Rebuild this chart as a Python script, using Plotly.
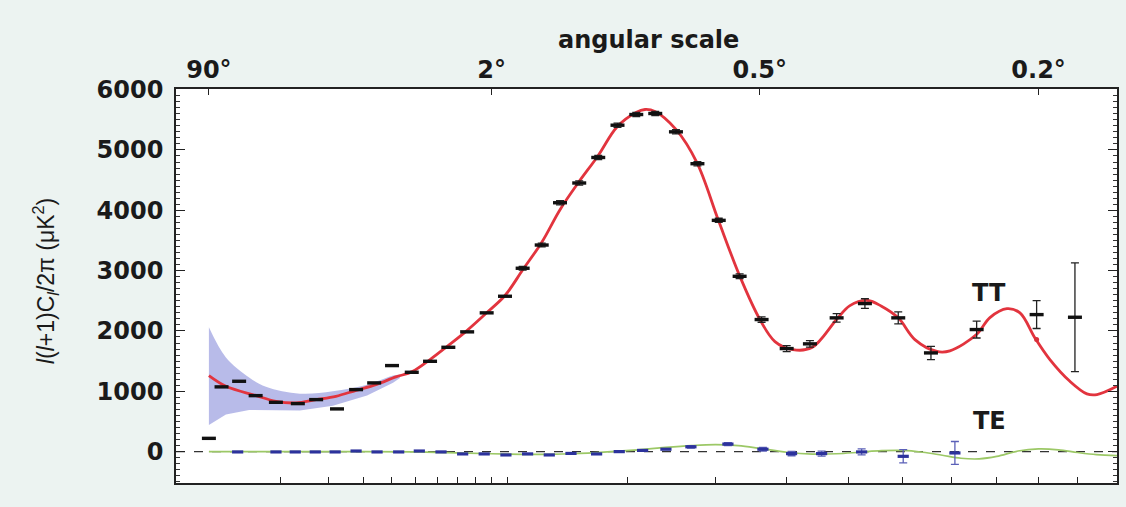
import plotly.graph_objects as go

POW = 0.4  # power-law multipole axis (x = l**0.4)

# TT binned data
tt_l = [2.0, 2.9, 4.5, 6.4, 9.3, 13.2, 17.1, 22.3, 27.8, 33.7, 40.2, 48.2, 56.4, 65.4, 75.5,
        86.9, 98.5, 110.5, 124.4, 138.7, 154.7, 171.6, 189.8, 208.6, 228.7, 251.9, 277.4,
        304.2, 331.9, 362.6, 399.7, 436.0, 480.1, 529.6, 591.7, 656.7, 754.4, 895.2, 992.8]
tt_val = [220, 1073, 1166, 928, 817, 796, 862, 708, 1028, 1139, 1426, 1315, 1497, 1729, 1985,
          2300, 2575, 3039, 3424, 4125, 4452, 4875, 5410, 5587, 5604, 5300, 4772,
          3833, 2906, 2189, 1708, 1786, 2217, 2454, 2217, 1636, 2023, 2271, 2227]
tt_err = [0] * 17 + [30, 30, 35, 35, 35, 35, 35, 35, 35, 35, 35, 40, 45, 50, 55, 70, 80,
                     100, 110, 140, 230, 900]

# TT best-fit model
model_l = [2, 3.26, 6.44, 9.31, 12.84, 17.1, 22.0, 27.8, 34.3, 41.7, 48.4, 56.4, 65.3, 75.4,
           87.1, 98.5, 110.7, 124.6, 138.7, 154.4, 171.3, 189.3, 208.3, 217.7, 228.4, 251.9,
           276.8, 303.4, 332.4, 360.2, 382.1, 409.3, 439.3, 480, 503, 535, 560, 591.7, 624.3,
           669, 696.3, 754, 784.3, 823.7, 854.6, 891, 928.4, 979.6, 1024.5, 1051.6, 1106.7]
model_val = [1260, 1083, 928, 834, 807, 862, 917, 1016, 1111, 1238, 1326, 1525, 1757, 2006,
             2305, 2587, 3018, 3475, 4010, 4470, 4900, 5380, 5620, 5670, 5637, 5340,
             4790, 3847, 2900, 2189, 1824, 1690, 1724, 2189, 2420, 2505, 2410, 2217, 1857,
             1660, 1670, 1940, 2222, 2370, 2300, 1885, 1525, 1165, 957, 945, 1083]

# binned model point visible in red
red_l = [895.2]
red_val = [1857]

# cosmic variance band
band_l = [2.0, 3.26, 5.6, 7.8, 13.6, 21.2, 31.3, 40.6, 43.3]
band_hi = [2060, 1560, 1230, 1075, 960, 1000, 1110, 1260, 1280]
band_lo = [440, 615, 690, 690, 680, 760, 930, 1140, 1220]

# TE data
te_l = [4.35, 9.31, 12.7, 16.9, 21.8, 27.8, 34.7, 42.8, 51.5, 61.7, 73.0, 85.4, 99.1, 114.0,
        130.2, 147.7, 170.1, 191.5, 215.2, 240.5, 269.5, 316.2, 364.5, 407.2, 455.0, 523.7,
        601.3, 706.9]
te_val = [-5, -5, -5, -5, -5, 10, -5, -5, 10, -5, -38, -38, -55, -38, -55, -30, -38, 0, 20,
          40, 80, 125, 40, -33, -33, -5, -78, -22]
te_err = [0] * 20 + [20, 25, 30, 35, 40, 50, 110, 190]

# TE model
te_model_l = [2, 10, 30, 50, 70, 90, 110, 130, 150, 180, 210, 240, 270, 300, 330, 360, 400,
              440, 480, 520, 560, 600, 640, 680, 720, 760, 800, 850, 900, 950, 1000, 1050, 1107]
te_model_val = [0, 0, 0, -5, -20, -35, -45, -45, -35, -5, 30, 70, 100, 115, 100, 55, -10,
                -40, -35, -10, 15, 20, -10, -60, -110, -120, -80, 10, 45, 30, -15, -50, -66]

# axes
bottom_tick_l = [10, 20, 30, 40, 50, 60, 70, 80, 90, 100, 200, 300, 400, 500, 600, 700, 800, 900, 1000]
top_tick_deg = [90, 2, 0.5, 0.2]
top_tick_text = ["90°", "2°", "0.5°", "0.2°"]
y_ticks = [0, 1000, 2000, 3000, 4000, 5000, 6000]
l_range = [0.519, 1107]
y_range = [-520, 6010]


def tx(vals):
    return [v ** POW for v in vals]


BG = "#ecf3f1"
TICKFONT = dict(family="DejaVu Sans", size=24, color="#1a1a1a", weight="bold")
LABELFONT = dict(family="DejaVu Sans", size=24, color="#1a1a1a", weight="bold")

fig = go.Figure()

fig.add_trace(go.Scatter(x=tx(band_l), y=band_lo, mode="lines", line=dict(width=0),
                         showlegend=False, hoverinfo="skip"))
fig.add_trace(go.Scatter(x=tx(band_l), y=band_hi, mode="lines", line=dict(width=0, shape="spline"),
                         fill="tonexty", fillcolor="rgba(140,145,220,0.62)",
                         showlegend=False, hoverinfo="skip"))

fig.add_trace(go.Scatter(x=tx(te_model_l), y=te_model_val, mode="lines",
                         line=dict(color="#9cc866", width=1.7, shape="spline"), showlegend=False))

fig.add_trace(go.Scatter(x=tx(model_l), y=model_val, mode="lines",
                         line=dict(color="#e2343e", width=2.8, shape="spline", smoothing=1.0),
                         showlegend=False))

fig.add_trace(go.Scatter(x=tx(red_l), y=red_val, mode="markers",
                         marker=dict(color="#d8303a", size=5), showlegend=False))

fig.add_trace(go.Scatter(x=tx(te_l), y=te_val, mode="markers",
                         marker=dict(symbol="line-ew", size=8, line=dict(width=3.2, color="#2c329c")),
                         error_y=dict(type="data", array=te_err, color="#5b60b8", thickness=1.3, width=4),
                         showlegend=False))

fig.add_trace(go.Scatter(x=tx(tt_l), y=tt_val, mode="markers",
                         marker=dict(symbol="line-ew", size=10, line=dict(width=3.4, color="#111111")),
                         error_y=dict(type="data", array=tt_err, color="#222222", thickness=1.3, width=4),
                         showlegend=False))

# invisible carriers so the top (angular scale) axis and right axis are drawn
fig.add_trace(go.Scatter(x=tx([180.0 / d for d in top_tick_deg]), y=[None] * len(top_tick_deg),
                         xaxis="x2", mode="markers", showlegend=False, hoverinfo="skip"))
fig.add_trace(go.Scatter(x=[None] * len(y_ticks), y=y_ticks, yaxis="y2", mode="markers",
                         showlegend=False, hoverinfo="skip"))

fig.add_hline(y=0, line=dict(color="#333333", width=1.4, dash="dash"), layer="below")

xr = tx(l_range)
fig.update_layout(
    width=1126, height=507,
    margin=dict(l=176, r=9, t=89, b=24),
    paper_bgcolor=BG,
    plot_bgcolor="#ffffff",
    showlegend=False,
    xaxis=dict(range=xr, tickmode="array", tickvals=tx(bottom_tick_l), showticklabels=False,
               ticks="inside", ticklen=6, tickwidth=1.3, tickcolor="#222",
               showline=True, linecolor="#222", linewidth=1.6, mirror=False,
               showgrid=False, zeroline=False),
    xaxis2=dict(range=xr, overlaying="x", side="top", anchor="y", tickmode="array",
                tickvals=tx([180.0 / d for d in top_tick_deg]), ticktext=top_tick_text,
                ticks="inside", ticklen=6, tickwidth=1.3, tickcolor="#222",
                tickfont=TICKFONT, ticklabelstandoff=0, showline=True, linecolor="#222", linewidth=1.6,
                showgrid=False, zeroline=False),
    yaxis=dict(range=y_range, tickmode="array", tickvals=y_ticks,
               ticks="inside", ticklen=9, tickwidth=1.3, tickcolor="#222",
               minor=dict(dtick=100, ticks="inside", ticklen=4, tickwidth=1, tickcolor="#333"),
               tickfont=TICKFONT, ticklabelstandoff=6,
               showline=True, linecolor="#222", linewidth=1.6,
               showgrid=False, zeroline=False),
    yaxis2=dict(range=y_range, overlaying="y", side="right", anchor="x", tickmode="array",
                tickvals=y_ticks, showticklabels=False,
                ticks="inside", ticklen=9, tickwidth=1.3, tickcolor="#222",
                minor=dict(dtick=100, ticks="inside", ticklen=4, tickwidth=1, tickcolor="#333"),
                showline=True, linecolor="#222", linewidth=1.6,
                showgrid=False, zeroline=False),
)

fig.add_annotation(text="angular scale", xref="paper", yref="paper", x=0.502, y=1.124,
                   showarrow=False, xanchor="center", yanchor="middle", font=LABELFONT)
fig.add_annotation(text="<i>l</i>(<i>l</i>+1)C<sub><i>l</i></sub>/2π (μK<sup>2</sup>)",
                   xref="paper", yref="paper", x=-0.139, y=0.513, textangle=-90,
                   showarrow=False, xanchor="center", yanchor="middle",
                   font=dict(family="Liberation Sans Narrow, Liberation Sans", size=23, color="#1a1a1a"))
fig.add_annotation(text="TT", xref="paper", yref="paper", x=0.884, y=0.482, showarrow=False,
                   font=LABELFONT)
fig.add_annotation(text="TE", xref="paper", yref="paper", x=0.884, y=0.117, showarrow=False,
                   font=LABELFONT)

fig.write_html(
    "out.html",
    config={"displayModeBar": False},
    post_script="document.body.style.margin='0';document.body.style.background='" + BG + "';"
                "document.body.style.overflow='hidden';",
)
